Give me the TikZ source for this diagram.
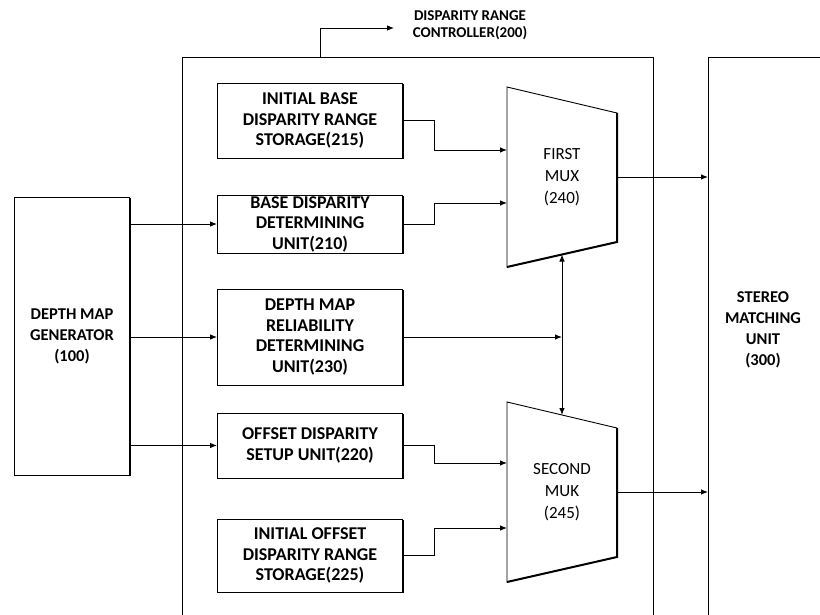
\documentclass[tikz,border=0pt]{standalone}
\usepackage{fontspec}
\setmainfont{Carlito}
\usetikzlibrary{arrows.meta,positioning,calc,shadows}

\begin{document}
\begin{tikzpicture}[x=1pt,y=-1pt,line width=0.9pt,
  box/.style={draw,fill=white,align=center,inner sep=0pt,minimum width=185pt,
    font=\bfseries\fontsize{18}{20.5}\selectfont,
    drop shadow={shadow xshift=1.2pt,shadow yshift=-1.2pt,opacity=1,fill=black}},
  muxtext/.style={align=center,font=\fontsize{17}{22}\selectfont},
  bigtext/.style={align=center,font=\bfseries\fontsize{16.5}{21}\selectfont},
  arr/.style={-{Latex[length=7pt,width=5.5pt]}}]
\useasboundingbox (0,0) rectangle (820,615);

\draw (182,615) -- (182,57) -- (653,57) -- (653,615);
\draw (708,615) -- (708,57) -- (820,57);
\coordinate (tap) at (320,57);
\node[align=center,font=\bfseries\fontsize{15}{17}\selectfont] (ctl) at (470,25) {DISPARITY RANGE\\CONTROLLER(200)};
\draw[arr] (tap) |- ($(ctl.west)+(-15,3)$);

\node[box,minimum width=115pt,minimum height=278pt,font=\bfseries\fontsize{16.5}{21}\selectfont] (dmg) at (72,336) {DEPTH MAP\\GENERATOR\\(100)};

\node[box,minimum height=75pt] (ibs) at (310,120.5) {INITIAL BASE\\DISPARITY RANGE\\STORAGE(215)};
\node[box,minimum height=58pt] (bdu) at (310,224) {BASE DISPARITY\\DETERMINING\\UNIT(210)};
\node[box,minimum height=96pt] (drd) at (310,337) {DEPTH MAP\\RELIABILITY\\DETERMINING\\UNIT(230)};
\node[box,minimum height=65pt] (osu) at (310,445.5) {OFFSET DISPARITY\\SETUP UNIT(220)};
\node[box,minimum height=73pt] (ios) at (310,555.5) {INITIAL OFFSET\\DISPARITY RANGE\\STORAGE(225)};

\draw (507,87) -- (617,113) -- (617,242) -- (507,267) -- cycle;
\draw[line width=2pt] (617,113) -- (617,242) -- (507,267);
\node[muxtext] (mux1) at (562,177) {FIRST\\MUX\\(240)};
\coordinate (m1a) at (507,150);
\coordinate (m1b) at (507,203);
\coordinate (m1o) at (617,177);
\coordinate (m1d) at (562,254.5);

\draw (507,402) -- (617,428) -- (617,557) -- (507,582) -- cycle;
\draw[line width=2pt] (617,428) -- (617,557) -- (507,582);
\node[muxtext] (mux2) at (562,492) {SECOND\\MUK\\(245)};
\coordinate (m2a) at (507,463);
\coordinate (m2b) at (507,528);
\coordinate (m2o) at (617,492);
\coordinate (m2u) at (562,415);

\node[bigtext] (smu) at (763,330) {STEREO\\MATCHING\\UNIT\\(300)};
\coordinate (s1) at (708,177);
\coordinate (s2) at (708,492);
\coordinate (jn) at (562,337);

\draw[arr] (dmg.east |- bdu.west) -- (bdu.west);
\draw[arr] (dmg.east |- drd.west) -- (drd.west);
\draw[arr] (dmg.east |- osu.west) -- (osu.west);

\draw[arr] (ibs.east) -- ++(31,0) |- (m1a);
\draw[arr] (bdu.east) -- ++(31,0) |- (m1b);
\draw[arr] (osu.east) -- ++(31,0) |- (m2a);
\draw[arr] (ios.east) -- ++(31,0) |- (m2b);
\draw[arr] (drd.east) -- (jn);
\draw[{Latex[length=7pt,width=5.5pt]}-{Latex[length=7pt,width=5.5pt]}] (m1d) -- (m2u);
\draw[arr] (m1o) -- (s1);
\draw[arr] (m2o) -- (s2);
\end{tikzpicture}
\end{document}
